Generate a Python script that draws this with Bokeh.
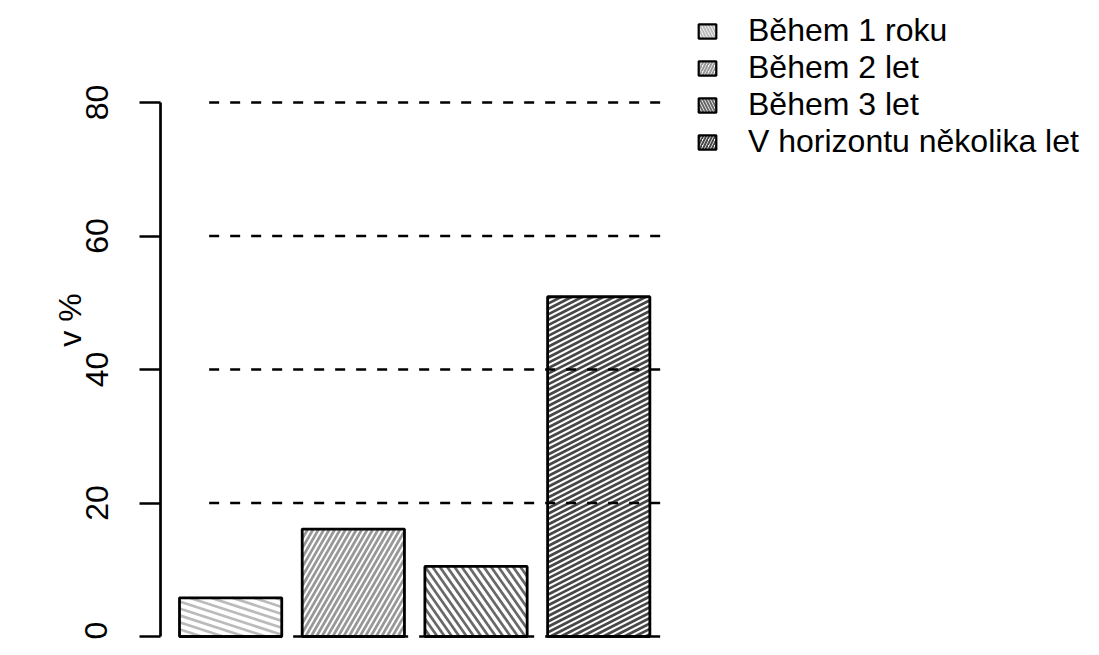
import numpy as np
from bokeh.plotting import figure
from bokeh.models import Range1d, LinearAxis, FixedTicker, Legend, LegendItem
from bokeh.embed import file_html
from bokeh.resources import INLINE

# ---- data ----
categories = ["Během 1 roku", "Během 2 let", "Během 3 let", "V horizontu několika let"]
values = [5.8, 16.1, 10.5, 50.9]
y_ticks = [0, 20, 40, 60, 80]
y_label = "v %"

# ---- styles ----
hatch_colors = ["#BBBBBB", "#979797", "#686868", "#474747"]
hatch_angles = [-18, 60, -55, 27]      # degrees, screen space
hatch_spacing = [6.6, 4.7, 6.0, 4.8]   # px between hatch lines
legend_patterns = ["\\", "/", "\\", "/"]
FONT = "Liberation Sans"

W, H = 1083, 639
LEFT = 160
PX_PER_X = 102.25
PX_PER_Y = 6.675
X_START = 0.2 - 19 / PX_PER_X
X_END = X_START + (W - LEFT) / PX_PER_X
Y_START = -3 / PX_PER_Y
Y_END = Y_START + H / PX_PER_Y
BAR_W, BAR_SPACE = 1.0, 0.2
GRID_X0, GRID_X1 = 0.49, 4.93

lefts = [BAR_SPACE + i * (BAR_W + BAR_SPACE) for i in range(len(values))]
rights = [l + BAR_W for l in lefts]

p = figure(width=W, height=H, x_range=Range1d(X_START, X_END), y_range=Range1d(Y_START, Y_END),
           output_backend="svg", toolbar_location=None, x_axis_location=None, y_axis_location=None,
           min_border_left=LEFT, min_border_right=0, min_border_top=0, min_border_bottom=0)
p.outline_line_color = None
p.background_fill_color = "white"
p.border_fill_color = "white"
p.xgrid.grid_line_color = None
p.ygrid.grid_line_color = None


def hatch_segments(x0, x1, y0, y1, angle_deg, spacing):
    X0, X1, Y0, Y1 = x0 * PX_PER_X, x1 * PX_PER_X, y0 * PX_PER_Y, y1 * PX_PER_Y
    th = np.radians(angle_deg)
    ux, uy = np.cos(th), np.sin(th)
    nx, ny = -uy, ux
    cs = [nx * X + ny * Y for X in (X0, X1) for Y in (Y0, Y1)]
    cmin, cmax = min(cs), max(cs)
    out = ([], [], [], [])
    c = np.ceil(cmin / spacing) * spacing
    while c <= cmax:
        px, py = c * nx, c * ny
        tlo, thi = -np.inf, np.inf
        ok = True
        for pp, d, lo, hi in ((px, ux, X0, X1), (py, uy, Y0, Y1)):
            if abs(d) < 1e-12:
                if pp < lo or pp > hi:
                    ok = False
            else:
                t1, t2 = (lo - pp) / d, (hi - pp) / d
                tlo = max(tlo, min(t1, t2))
                thi = min(thi, max(t1, t2))
        if ok and thi > tlo:
            out[0].append((px + tlo * ux) / PX_PER_X)
            out[1].append((py + tlo * uy) / PX_PER_Y)
            out[2].append((px + thi * ux) / PX_PER_X)
            out[3].append((py + thi * uy) / PX_PER_Y)
        c += spacing
    return out


# hatched bars
p.quad(left=lefts, right=rights, top=values, bottom=0, fill_color="white", line_color=None)
for i, v in enumerate(values):
    xs0, ys0, xs1, ys1 = hatch_segments(lefts[i], rights[i], 0, v, hatch_angles[i], hatch_spacing[i])
    p.segment(x0=xs0, y0=ys0, x1=xs1, y1=ys1, line_color=hatch_colors[i], line_width=2.7)
p.quad(left=lefts, right=rights, top=values, bottom=0, fill_color=None,
       line_color="black", line_width=2.8)

# dashed reference lines
p.segment(x0=[GRID_X0] * len(y_ticks), x1=[GRID_X1] * len(y_ticks), y0=y_ticks, y1=y_ticks,
          line_color="black", line_width=2.7, line_dash="10 11")

# y axis
ax = LinearAxis(ticker=FixedTicker(ticks=y_ticks), bounds=(0, 80), axis_label=y_label)
ax.axis_line_width = 2.7
ax.major_tick_line_width = 2.7
ax.major_tick_out = 21
ax.major_tick_in = 0
ax.minor_tick_out = 0
ax.minor_tick_in = 0
ax.major_label_orientation = "vertical"
ax.major_label_text_font = FONT
ax.major_label_text_font_size = "32px"
ax.major_label_text_color = "black"
ax.major_label_standoff = 32
ax.axis_label_text_font = FONT
ax.axis_label_text_font_size = "32px"
ax.axis_label_text_font_style = "normal"
ax.axis_label_text_color = "black"
ax.axis_label_standoff = -5
p.add_layout(ax, "left")

# legend (dummy hatched boxes)
items = []
for i, name in enumerate(categories):
    r = p.quad(left=[np.nan], right=[np.nan], top=[np.nan], bottom=[np.nan],
               fill_color="white", line_color="black", line_width=2.2,
               hatch_pattern=legend_patterns[i], hatch_color=hatch_colors[i],
               hatch_scale=6, hatch_weight=2)
    items.append(LegendItem(label=name, renderers=[r]))
legend = Legend(items=items, location=(536, 479), glyph_width=22, glyph_height=18,
                label_standoff=30, label_text_font=FONT, label_text_font_size="32px",
                label_text_color="black",
                label_height=37, spacing=0, padding=0, margin=0,
                border_line_color=None, background_fill_alpha=0)
p.add_layout(legend)

open("out.html", "w").write(file_html(p, INLINE))
